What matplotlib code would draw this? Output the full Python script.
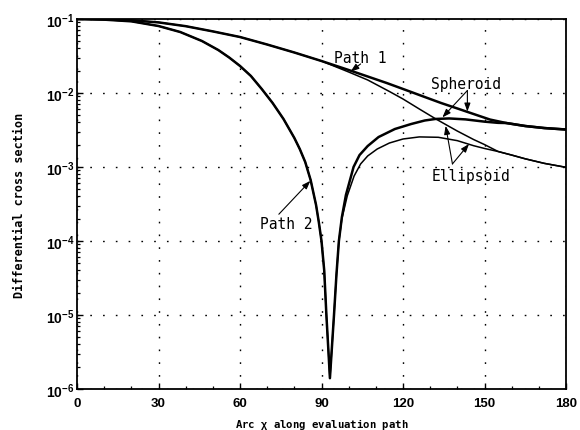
import numpy as np
import matplotlib
matplotlib.use("Agg")
import matplotlib.pyplot as plt
from matplotlib.ticker import LogLocator, MultipleLocator, NullFormatter

tickfont = ['Liberation Sans', 'DejaVu Sans']
plt.rcParams['mathtext.fontset'] = 'custom'
plt.rcParams['mathtext.rm'] = 'Liberation Sans:bold'
plt.rcParams['mathtext.it'] = 'Liberation Sans:bold'
plt.rcParams['mathtext.bf'] = 'Liberation Sans:bold'

# Path 1, spheroid
p1s_x = [0, 10, 20, 30, 40, 50, 60, 70, 80, 90, 100, 107, 114, 121, 128, 134, 140, 146,
         152, 158, 165, 172, 180]
p1s_y = [0.1, 0.099, 0.096, 0.090, 0.080, 0.068, 0.0571, 0.0452, 0.03526, 0.02706,
         0.02046, 0.01671, 0.01365, 0.01099, 0.00883, 0.00733, 0.00618, 0.0052, 0.00438,
         0.00393, 0.00358, 0.00336, 0.00321]

# Path 1, ellipsoid
p1e_x = [0, 10, 20, 30, 40, 50, 60, 70, 80, 90, 95, 100, 107, 115, 120, 126, 132, 136,
         140, 146, 150, 155, 160, 165, 172, 180]
p1e_y = [0.1, 0.099, 0.096, 0.090, 0.080, 0.068, 0.0571, 0.0452, 0.03526, 0.02706,
         0.0228, 0.01922, 0.0150, 0.01048, 0.0083, 0.00608, 0.00448, 0.0037, 0.00306,
         0.00235, 0.00201, 0.00162, 0.00145, 0.00129, 0.00112, 0.00099]

# Path 2, spheroid
p2s_x = [0, 10, 20, 30, 38, 46, 52, 56, 60, 64, 68, 72, 76, 80, 82, 84, 86, 88, 89, 90,
         91, 91.8, 92.5, 93.1, 93.8, 94.6, 95.5, 96.4, 97.5, 99, 101.8, 104, 107, 111, 117,
         123, 128, 132, 137, 143, 150, 155, 158, 165, 172, 180]
p2s_y = [0.1, 0.098, 0.093, 0.0804, 0.0667, 0.0504, 0.0381, 0.0302, 0.0232, 0.0170,
         0.01133, 0.00733, 0.00446, 0.00247, 0.00175, 0.00117, 6.67e-4, 3.06e-4, 1.81e-4,
         1e-4, 4e-5, 1e-5, 3.5e-6, 1.4e-6, 3.5e-6, 1e-5, 3.5e-5, 1e-4, 2.1e-4, 4.2e-4,
         1e-3, 1.45e-3, 1.92e-3, 2.54e-3, 3.26e-3, 3.81e-3, 4.25e-3, 4.46e-3, 4.53e-3,
         4.4e-3, 4.1e-3, 3.95e-3, 3.93e-3, 3.58e-3, 3.36e-3, 3.21e-3]

# Path 2, ellipsoid
p2e_x = [0, 10, 20, 30, 38, 46, 52, 56, 60, 64, 68, 72, 76, 80, 82, 84, 86, 88, 89, 90,
         91, 91.8, 92.5, 93.1, 93.8, 94.6, 95.5, 96.4, 97.5, 99.5, 102, 104.4, 107, 110.5,
         115, 120, 126, 133, 140, 146, 150, 155, 160, 165, 172, 180]
p2e_y = [0.1, 0.098, 0.093, 0.0804, 0.0667, 0.0504, 0.0381, 0.0302, 0.0232, 0.0170,
         0.01133, 0.00733, 0.00446, 0.00247, 0.00175, 0.00117, 6.67e-4, 3.06e-4, 1.81e-4,
         1e-4, 4e-5, 1e-5, 3.5e-6, 1.4e-6, 3.5e-6, 1e-5, 3.5e-5, 1e-4, 2e-4, 4.1e-4,
         7.55e-4, 1.1e-3, 1.41e-3, 1.75e-3, 2.11e-3, 2.39e-3, 2.55e-3, 2.52e-3, 2.27e-3,
         1.94e-3, 1.78e-3, 1.62e-3, 1.45e-3, 1.29e-3, 1.12e-3, 0.99e-3]

x_ticks = [0, 30, 60, 90, 120, 150, 180]
y_ticks = [1e-6, 1e-5, 1e-4, 1e-3, 1e-2, 1e-1]
y_ticklabels = [r'$10^{-6}$', r'$10^{-5}$', r'$10^{-4}$', r'$10^{-3}$', r'$10^{-2}$', r'$10^{-1}$']

fig = plt.figure(figsize=(5.8, 4.31), dpi=100)
ax = fig.add_axes([77 / 580, 1 - 390 / 431, (566 - 77) / 580, (390 - 20) / 431])

ax.semilogy(p1e_x, p1e_y, color='black', lw=1.1)
ax.semilogy(p2e_x, p2e_y, color='black', lw=1.1)
ax.semilogy(p1s_x, p1s_y, color='black', lw=1.8)
ax.semilogy(p2s_x, p2s_y, color='black', lw=1.8)

ax.set_xlim(0, 180)
ax.set_ylim(1e-6, 1e-1)
ax.set_xticks(x_ticks)
ax.set_xticklabels([str(v) for v in x_ticks], family=tickfont, fontweight='bold', fontsize=9.5)
ax.xaxis.set_minor_locator(MultipleLocator(10))
ax.set_yticks(y_ticks)
ax.set_yticklabels(y_ticklabels, fontsize=10)
ax.yaxis.set_minor_locator(LogLocator(base=10, subs=np.arange(2, 10)))
ax.yaxis.set_minor_formatter(NullFormatter())
ax.tick_params(which='both', direction='in', top=False, right=False, color='black')
ax.tick_params(which='major', length=4, width=1.0)
ax.tick_params(which='minor', length=2.5, width=0.9)
ax.tick_params(axis='x', pad=6)
ax.tick_params(axis='y', pad=2)

ax.grid(True, which='major', color='black', linestyle=(0, (1.2, 8)), linewidth=1.0)
for s in ax.spines.values():
    s.set_linewidth(1.3)

ax.set_xlabel(r'Arc $\chi$ along evaluation path', family='DejaVu Sans Mono',
              fontweight='bold', fontsize=7.7)
ax.xaxis.set_label_coords(0.5, -0.072)
ax.set_ylabel('Differential cross section', family='DejaVu Sans Mono',
              fontweight='bold', fontsize=8.5)
ax.yaxis.set_label_coords(-0.105, 0.5)

arrow = dict(arrowstyle='-|>,head_length=0.5,head_width=0.18', color='black', lw=0.8,
             shrinkA=0, shrinkB=0)
lab = dict(family='DejaVu Sans Mono', fontsize=10.5, ha='center', va='center')

ax.text(104.4, 0.0306, 'Path 1', **lab)
ax.annotate('', xy=(100.7, 0.0195), xytext=(104.4, 0.0247), arrowprops=arrow)

ax.text(143.1, 0.0136, 'Spheroid', **lab)
ax.annotate('', xy=(134.5, 0.00468), xytext=(143.7, 0.0108), arrowprops=arrow)
ax.annotate('', xy=(143.7, 0.0056), xytext=(143.7, 0.0108), arrowprops=arrow)

ax.text(145.0, 7.6e-4, 'Ellipsoid', **lab)
ax.annotate('', xy=(135.7, 0.0036), xytext=(138.2, 0.0011), arrowprops=arrow)
ax.annotate('', xy=(144.3, 0.00205), xytext=(138.2, 0.0011), arrowprops=arrow)

ax.text(77.1, 1.75e-4, 'Path 2', **lab)
ax.annotate('', xy=(85.9, 6.5e-4), xytext=(74.3, 2.3e-4), arrowprops=arrow)

fig.savefig('out.png', dpi=100)
